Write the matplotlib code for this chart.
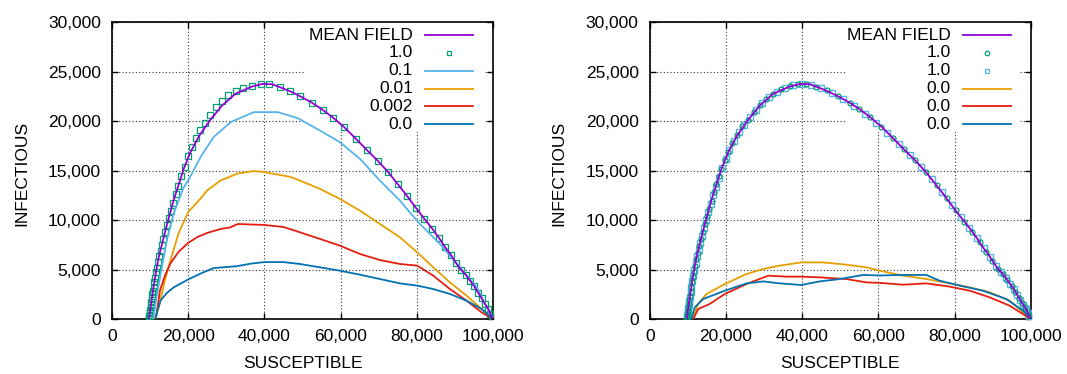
import matplotlib
matplotlib.use("Agg")
import matplotlib.pyplot as plt
from matplotlib.patches import Rectangle
from matplotlib.ticker import StrMethodFormatter

plt.rcParams['font.family'] = ['Liberation Sans', 'DejaVu Sans']

PURPLE = '#9400D3'
GREEN = '#009E73'
LBLUE = '#56B4E9'
ORANGE = '#E69F00'
RED = '#E51E10'
BLUE = '#0072B2'

# mean field curve (same in both panels)
mf_s = [9700, 10200, 10800, 11500, 12250, 13130, 14000, 15050, 16190, 17500, 18810,
        20560, 22920, 25810, 28880, 32370, 36750, 39500, 42000, 44100, 46730, 49350,
        52420, 55310, 58090, 60980, 64040, 66860, 69730, 72370, 74980, 77520, 79790,
        81900, 84070, 85920, 87480, 88990, 90290, 91610, 92830, 93980, 95010, 96160,
        97030, 97910, 98770, 99400, 100000]
mf_i = [0, 1400, 3000, 4700, 6230, 7580, 8930, 10440, 12030, 13580, 15170,
        16840, 18530, 20120, 21560, 22750, 23490, 23750, 23720, 23420, 23010, 22510,
        21870, 21130, 20320, 19370, 18200, 17090, 16000, 14890, 13650, 12400, 11220,
        10170, 9130, 8150, 7240, 6470, 5660, 4980, 4480, 3870, 3340, 2630,
        2080, 1520, 1010, 480, 0]

# left panel: p = 1.0 (squares)
sq_s = [9700, 9750, 9800, 9850, 9900, 9950, 10000, 10100, 10200, 10300, 10450, 10600,
        10750, 10900, 11100, 11300, 11550, 11800, 12100, 12400, 12750, 13100, 13500,
        13950, 14400, 14900, 15450, 16050, 16700, 17400, 18200, 19100, 20000, 21000,
        22050, 23200, 24400, 25700, 27300, 28800, 30500, 32500, 34500, 36700, 39000,
        41300, 44100, 46700, 49400, 52400, 55300, 58100, 61000, 64000, 66900, 69700,
        72400, 75000, 77500, 79800, 81900, 84100, 85900, 87500, 89000, 90300, 91600,
        92800, 94000, 95000, 96200, 97000, 97900, 98800, 99300, 99700, 99900]
sq_i = [0, 150, 300, 450, 600, 750, 900, 1200, 1450, 1700, 2100, 2500,
        2850, 3250, 3700, 4150, 4700, 5200, 5800, 6350, 6900, 7450, 8100,
        8800, 9500, 10200, 10950, 11750, 12600, 13450, 14400, 15400, 16450, 17400,
        18250, 19050, 19850, 20650, 21400, 22000, 22600, 23000, 23350, 23550, 23750,
        23750, 23450, 23000, 22500, 21850, 21150, 20300, 19350, 18200, 17100, 16000,
        14900, 13650, 12400, 11200, 10150, 9100, 8150, 7250, 6450, 5650, 5000,
        4450, 3850, 3350, 2650, 2100, 1500, 1000, 550, 250, 80]

# left panel: p = 0.1
l01_s = [10800, 11600, 12800, 14300, 16200, 18800, 20000, 23300, 26700, 31200, 37200,
         43500, 48700, 54600, 59840, 65090, 70340, 75590, 80400, 86090, 91340, 95720, 100000]
l01_i = [0, 2000, 4650, 7800, 10700, 13300, 14000, 16400, 18400, 19900, 20900,
         20900, 20300, 19040, 17860, 16180, 13980, 11960, 9770, 7580, 5220, 3200, 0]

# left panel: p = 0.01
l001_s = [11200, 12300, 13800, 15400, 17500, 20000, 23300, 25000, 28500, 33000, 37200,
          40000, 46900, 49340, 54600, 59840, 65090, 70340, 75590, 80140, 84340, 88710,
          93090, 97030, 100000]
l001_i = [0, 1200, 3800, 6000, 8700, 10800, 12200, 13000, 14000, 14700, 14950,
          14850, 14350, 13980, 13140, 12130, 10950, 9600, 8250, 6730, 5220, 3700,
          2360, 1010, 0]

# left panel: p = 0.002
l0002_s = [11500, 12600, 13800, 15300, 17500, 20000, 22500, 25000, 28500, 31000, 33000,
           36500, 40000, 45000, 49340, 54600, 59840, 65090, 70340, 75590, 80140, 84340,
           88710, 93090, 97030, 100000]
l0002_i = [0, 2900, 4300, 5600, 6800, 7700, 8300, 8700, 9100, 9250, 9600,
           9550, 9500, 9300, 8760, 8090, 7410, 6570, 5960, 5560, 5390, 4380,
           3030, 1850, 670, 0]

# left panel: p = 0.0
l0_s = [11400, 12000, 12800, 14300, 16200, 20000, 23300, 26700, 30000, 33000, 36500,
        40000, 45000, 49340, 54600, 59840, 65090, 70340, 75590, 80140, 84340, 88710,
        93090, 97030, 100000]
l0_i = [0, 1000, 1900, 2600, 3200, 4000, 4600, 5150, 5250, 5350, 5600,
        5750, 5750, 5560, 5220, 4880, 4480, 4040, 3600, 3370, 3030, 2530,
        1850, 1010, 0]

# right panel: 1.0 (circles)
rc_s = [9650, 9700, 9750, 9800, 9900, 10000, 10100, 10250, 10400, 10550, 10700, 10900,
        11100, 11350, 11600, 11900, 12250, 12600, 13000, 13450, 13950, 14450, 15050,
        15600, 16200, 16850, 17500, 18200, 18800, 19700, 20600, 21700, 22900, 24300,
        25800, 27300, 28900, 30600, 32400, 34500, 36700, 38900, 41100, 43600, 46400,
        49300, 52500, 55000, 57900, 60800, 63800, 66700, 69600, 72500, 75300, 77900,
        80400, 82600, 84700, 86600, 88300, 89900, 91400, 92700, 93900, 95000, 96000,
        96900, 97700, 98400, 99000, 99500, 99800]
rc_i = [0, 150, 300, 450, 700, 950, 1200, 1550, 1900, 2300, 2700, 3200,
        3700, 4250, 4800, 5400, 6100, 6700, 7350, 8050, 8800, 9550, 10400,
        11100, 11950, 12800, 13600, 14450, 15150, 16050, 16850, 17750, 18550, 19450,
        20150, 20950, 21600, 22250, 22750, 23200, 23500, 23700, 23700, 23450, 23100,
        22500, 21850, 21200, 20400, 19400, 18300, 17200, 16050, 14850, 13550, 12250,
        11000, 9850, 8800, 7750, 6800, 5900, 5100, 4500, 3900, 3350, 2750,
        2150, 1650, 1200, 750, 400, 150]

# right panel: 1.0 (squares)
rs_s = [9700, 9800, 9900, 10050, 10200, 10350, 10500, 10700, 10900, 11150, 11400, 11700,
        12000, 12400, 12800, 13250, 13700, 14250, 14800, 15400, 16000, 16700, 17400,
        18100, 19000, 19900, 20900, 22000, 23300, 24700, 26200, 27800, 29500, 31300,
        33300, 35400, 37600, 39900, 42300, 44900, 47700, 50700, 53600, 56500, 59400,
        62300, 65300, 68200, 71100, 74000, 76700, 79300, 81700, 83900, 85900, 87700,
        89300, 90800, 92200, 93400, 94500, 95500, 96500, 97300, 98000, 98700, 99200,
        99600, 99900]
rs_i = [50, 400, 700, 1100, 1450, 1850, 2200, 2700, 3200, 3800, 4350, 5000,
        5600, 6350, 7000, 7700, 8400, 9200, 10000, 10800, 11650, 12500, 13350,
        14200, 15300, 16200, 17100, 17950, 18850, 19650, 20450, 21150, 21800, 22400,
        22950, 23350, 23600, 23750, 23650, 23350, 22850, 22200, 21500, 20700, 19800,
        18800, 17700, 16550, 15350, 14100, 12850, 11550, 10350, 9200, 8150, 7150,
        6250, 5400, 4700, 4100, 3550, 3050, 2400, 1900, 1450, 1000, 600,
        300, 80]

# right panel: 0.0 runs
ro_s = [11200, 12700, 14900, 19700, 25400, 29800, 34100, 39800, 45500, 51600, 56900,
        60400, 66500, 72600, 78800, 84000, 89300, 94500, 100000]
ro_i = [0, 1520, 2530, 3540, 4550, 5060, 5390, 5720, 5720, 5490, 5220,
        4880, 4380, 4040, 3600, 3200, 2690, 1850, 0]
rr_s = [11400, 12700, 15700, 19700, 25400, 31100, 35900, 39800, 44600, 51600, 56900,
        60400, 66500, 72600, 78800, 84000, 89300, 94500, 100000]
rr_i = [0, 1010, 1520, 2530, 3540, 4380, 4280, 4280, 4210, 4040, 3700,
        3650, 3470, 3600, 3270, 2860, 2180, 1340, 0]
rb_s = [10900, 11800, 14000, 19700, 25400, 29800, 34100, 39800, 44600, 49900, 56000,
        60400, 66500, 72600, 76100, 81400, 87500, 93600, 98000, 100000]
rb_i = [0, 1180, 2020, 2860, 3600, 3800, 3600, 3440, 3800, 4040, 4450,
        4400, 4450, 4450, 3870, 3370, 2860, 2020, 840, 0]

left_labels = ['MEAN FIELD', '1.0', '0.1', '0.01', '0.002', '0.0']
right_labels = ['MEAN FIELD', '1.0', '1.0', '0.0', '0.0', '0.0']

FS = 12.5


def style_axes(ax):
    ax.set_xlim(0, 100000)
    ax.set_ylim(0, 30000)
    ax.set_xticks(range(0, 100001, 20000))
    ax.set_yticks(range(0, 30001, 5000))
    ax.xaxis.set_major_formatter(StrMethodFormatter('{x:,.0f}'))
    ax.yaxis.set_major_formatter(StrMethodFormatter('{x:,.0f}'))
    ax.tick_params(direction='in', top=True, right=True, length=4, width=1,
                   labelsize=FS, colors='black')
    ax.tick_params(axis='x', pad=7)
    ax.tick_params(axis='y', pad=8)
    ax.set_axisbelow(True)
    ax.grid(True, color='black', linestyle=(0, (1, 2)), linewidth=0.8, alpha=0.8)
    for sp in ax.spines.values():
        sp.set_linewidth(1.2)
    ax.set_xlabel('SUSCEPTIBLE', fontsize=FS)
    ax.set_ylabel('INFECTIOUS', fontsize=FS)
    ax.xaxis.set_label_coords(0.5, -0.125)
    ax.yaxis.set_label_coords(-0.218, 0.49)


def key(ax, labels, handles, box_x0, box_x1):
    ax.add_patch(Rectangle((box_x0, 0.63), box_x1 - box_x0, 0.37, transform=ax.transAxes,
                           facecolor='white', edgecolor='none', zorder=1))
    ys = [0.956, 0.896, 0.836, 0.776, 0.716, 0.656]
    for lab, y, h in zip(labels, ys, handles):
        ax.text(0.79, y, lab, transform=ax.transAxes, ha='right', va='center',
                fontsize=FS, zorder=6)
        if h[0] == 'line':
            ax.plot([0.822, 0.947], [y, y], transform=ax.transAxes, color=h[1],
                    lw=1.3, zorder=6, clip_on=False)
        else:
            ax.plot([0.884], [y], transform=ax.transAxes, marker=h[0], ls='none',
                    mfc='none', mec=h[1], ms=h[2], mew=0.9, zorder=6, clip_on=False)


fig = plt.figure(figsize=(10.67, 3.74), dpi=100)
ax1 = fig.add_axes([0.105, 0.147, 0.357, 0.794])
ax2 = fig.add_axes([0.609, 0.147, 0.357, 0.794])

# left panel
ax1.plot(mf_s, mf_i, color=PURPLE, lw=1.3, zorder=4)
ax1.plot(sq_s, sq_i, ls='none', marker='s', mfc='none', mec=GREEN, ms=4.2, mew=0.9, zorder=3)
ax1.plot(l01_s, l01_i, color=LBLUE, lw=1.3, zorder=3)
ax1.plot(l001_s, l001_i, color=ORANGE, lw=1.3, zorder=3)
ax1.plot(l0002_s, l0002_i, color=RED, lw=1.3, zorder=3)
ax1.plot(l0_s, l0_i, color=BLUE, lw=1.3, zorder=3)
style_axes(ax1)
key(ax1, left_labels,
    [('line', PURPLE), ('s', GREEN, 3.5), ('line', LBLUE), ('line', ORANGE),
     ('line', RED), ('line', BLUE)], 0.507, 0.979)

# right panel
ax2.plot(rs_s, rs_i, ls='none', marker='s', mfc='none', mec=LBLUE, ms=5, mew=1.0, zorder=3)
ax2.plot(rc_s, rc_i, ls='none', marker='o', mfc='none', mec=GREEN, ms=3.6, mew=0.9, zorder=3)
ax2.plot(mf_s, mf_i, color=PURPLE, lw=1.3, zorder=4)
ax2.plot(ro_s, ro_i, color=ORANGE, lw=1.3, zorder=3)
ax2.plot(rr_s, rr_i, color=RED, lw=1.3, zorder=3)
ax2.plot(rb_s, rb_i, color=BLUE, lw=1.3, zorder=3)
style_axes(ax2)
key(ax2, right_labels,
    [('line', PURPLE), ('o', GREEN, 3.2), ('s', LBLUE, 3.5), ('line', ORANGE),
     ('line', RED), ('line', BLUE)], 0.512, 0.971)

fig.savefig('out.png', dpi=100)
